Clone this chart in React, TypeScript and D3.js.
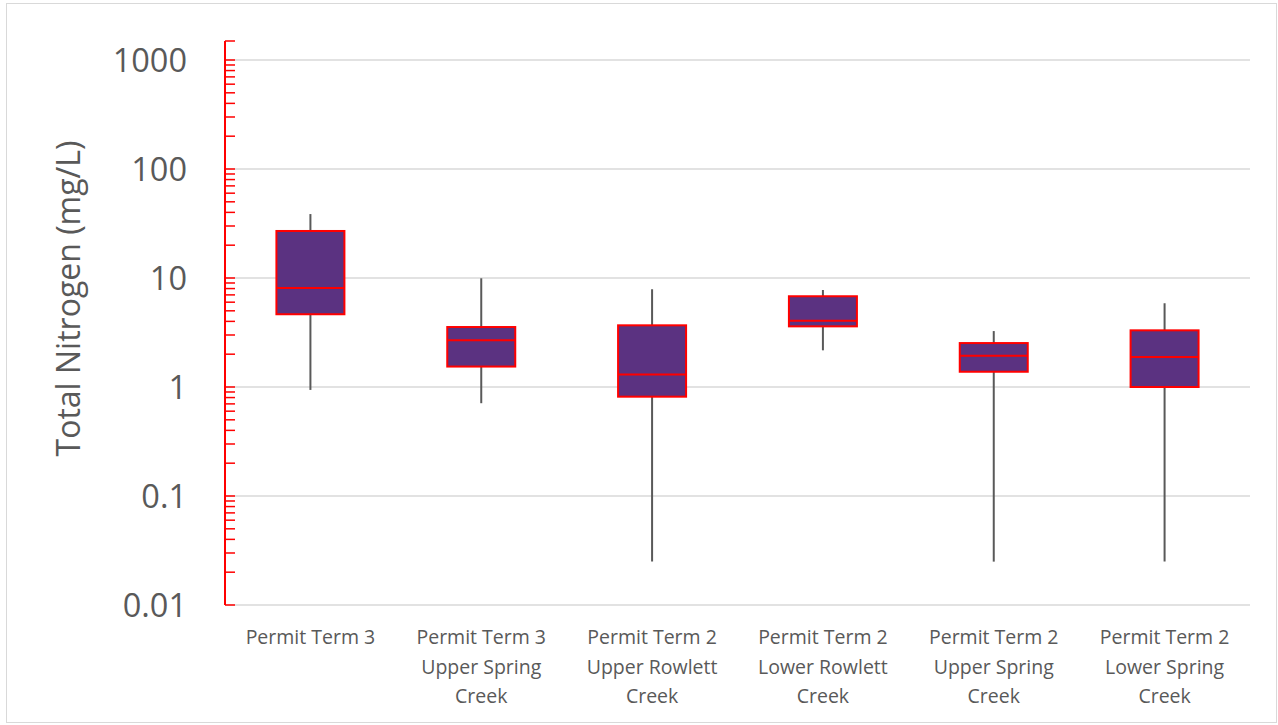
import { useEffect, useRef } from 'react';
import * as d3 from 'd3';

// categories (each label split into its lines)
const categories = [
  ['Permit Term 3'],
  ['Permit Term 3', 'Upper Spring', 'Creek'],
  ['Permit Term 2', 'Upper Rowlett', 'Creek'],
  ['Permit Term 2', 'Lower Rowlett', 'Creek'],
  ['Permit Term 2', 'Upper Spring', 'Creek'],
  ['Permit Term 2', 'Lower Spring', 'Creek'],
];

// box plot stats, mg/L
const whiskerMin = [0.94, 0.71, 0.025, 2.17, 0.025, 0.025];
const q1 = [4.65, 1.54, 0.815, 3.6, 1.38, 1.0];
const median = [8.1, 2.68, 1.3, 4.06, 1.94, 1.88];
const q3 = [27, 3.55, 3.68, 6.8, 2.53, 3.31];
const whiskerMax = [38.6, 9.94, 7.88, 7.76, 3.26, 5.86];

const yTicks = [0.01, 0.1, 1, 10, 100, 1000];
const yTickLabels = ['0.01', '0.1', '1', '10', '100', '1000'];

const W = 1278;
const H = 725;
const FONT = '"Open Sans", "Liberation Sans", sans-serif';
const TEXT = '#595959';
const RED = '#ff0000';

export default function App() {
  const svgRef = useRef<SVGSVGElement>(null);

  useEffect(() => {
    if (!svgRef.current) return;
    const svg = d3.select(svgRef.current);
    svg.selectAll('*').remove();

    const left = 225;
    const right = 1250;
    const axisTop = 41;

    const y = d3.scaleLog().domain([0.01, 1000]).range([605, 60]);
    const x = d3
      .scaleBand<number>()
      .domain(categories.map((_, i) => i))
      .range([left, right]);

    // outer border
    svg
      .append('rect')
      .attr('x', 6.5)
      .attr('y', 3.5)
      .attr('width', 1270)
      .attr('height', 719)
      .attr('fill', '#fff')
      .attr('stroke', '#d9d9d9')
      .attr('stroke-width', 1);

    // gridlines
    svg
      .append('g')
      .selectAll('line')
      .data(yTicks)
      .enter()
      .append('line')
      .attr('x1', left)
      .attr('x2', right)
      .attr('y1', (d) => y(d))
      .attr('y2', (d) => y(d))
      .attr('stroke', '#d9d9d9')
      .attr('stroke-width', 1.5);

    // y tick labels
    svg
      .append('g')
      .selectAll('text')
      .data(yTicks)
      .enter()
      .append('text')
      .attr('x', 187)
      .attr('y', (d) => y(d))
      .attr('dy', '0.36em')
      .attr('text-anchor', 'end')
      .attr('font-family', FONT)
      .attr('font-size', 32.5)
      .attr('fill', TEXT)
      .text((_, i) => yTickLabels[i]);

    // y title
    svg
      .append('text')
      .attr('transform', `translate(80,${(y(0.01) + y(1000)) / 2 - 34}) rotate(-90)`)
      .attr('text-anchor', 'middle')
      .attr('font-family', FONT)
      .attr('font-size', 32)
      .attr('fill', TEXT)
      .text('Total Nitrogen (mg/L)');

    // red axis with major and minor ticks
    const minor: number[] = [];
    for (let e = -2; e < 3; e++) {
      for (let m = 1; m < 10; m++) minor.push(m * Math.pow(10, e));
    }
    minor.push(1000);
    const axis = svg.append('g');
    axis
      .selectAll('line')
      .data(minor)
      .enter()
      .append('line')
      .attr('x1', left)
      .attr('x2', left + 10)
      .attr('y1', (d) => y(d))
      .attr('y2', (d) => y(d))
      .attr('stroke', RED)
      .attr('stroke-width', 1.5);
    axis
      .append('line')
      .attr('x1', left)
      .attr('x2', left + 10)
      .attr('y1', axisTop)
      .attr('y2', axisTop)
      .attr('stroke', RED)
      .attr('stroke-width', 1.5);
    axis
      .append('line')
      .attr('x1', left)
      .attr('x2', left)
      .attr('y1', axisTop)
      .attr('y2', y(0.01))
      .attr('stroke', RED)
      .attr('stroke-width', 2);

    // boxes
    const boxW = 68;
    const g = svg
      .append('g')
      .selectAll('g')
      .data(categories.map((_, i) => i))
      .enter()
      .append('g');
    const cx = (i: number) => (x(i) ?? 0) + x.bandwidth() / 2;

    g.append('line')
      .attr('x1', cx)
      .attr('x2', cx)
      .attr('y1', (i) => y(whiskerMax[i]))
      .attr('y2', (i) => y(whiskerMin[i]))
      .attr('stroke', TEXT)
      .attr('stroke-width', 2);

    g.append('rect')
      .attr('x', (i) => cx(i) - boxW / 2)
      .attr('y', (i) => y(q3[i]))
      .attr('width', boxW)
      .attr('height', (i) => y(q1[i]) - y(q3[i]))
      .attr('fill', '#5b3281')
      .attr('stroke', RED)
      .attr('stroke-width', 2);

    g.append('line')
      .attr('x1', (i) => cx(i) - boxW / 2)
      .attr('x2', (i) => cx(i) + boxW / 2)
      .attr('y1', (i) => y(median[i]))
      .attr('y2', (i) => y(median[i]))
      .attr('stroke', RED)
      .attr('stroke-width', 2);

    // category labels
    const labels = svg
      .append('g')
      .selectAll('text')
      .data(categories)
      .enter()
      .append('text')
      .attr('x', (_, i) => cx(i))
      .attr('y', 644)
      .attr('text-anchor', 'middle')
      .attr('font-family', FONT)
      .attr('font-size', 19.5)
      .attr('fill', TEXT);
    labels
      .selectAll('tspan')
      .data((d) => d)
      .enter()
      .append('tspan')
      .attr('x', function () {
        return (this.parentNode as SVGTextElement).getAttribute('x');
      })
      .attr('dy', (_, j) => (j === 0 ? 0 : 29.5))
      .text((d) => d);
  }, []);

  return (
    <svg
      ref={svgRef}
      width={W}
      height={H}
      style={{ position: 'absolute', left: 0, top: 0, background: '#fff' }}
    />
  );
}
